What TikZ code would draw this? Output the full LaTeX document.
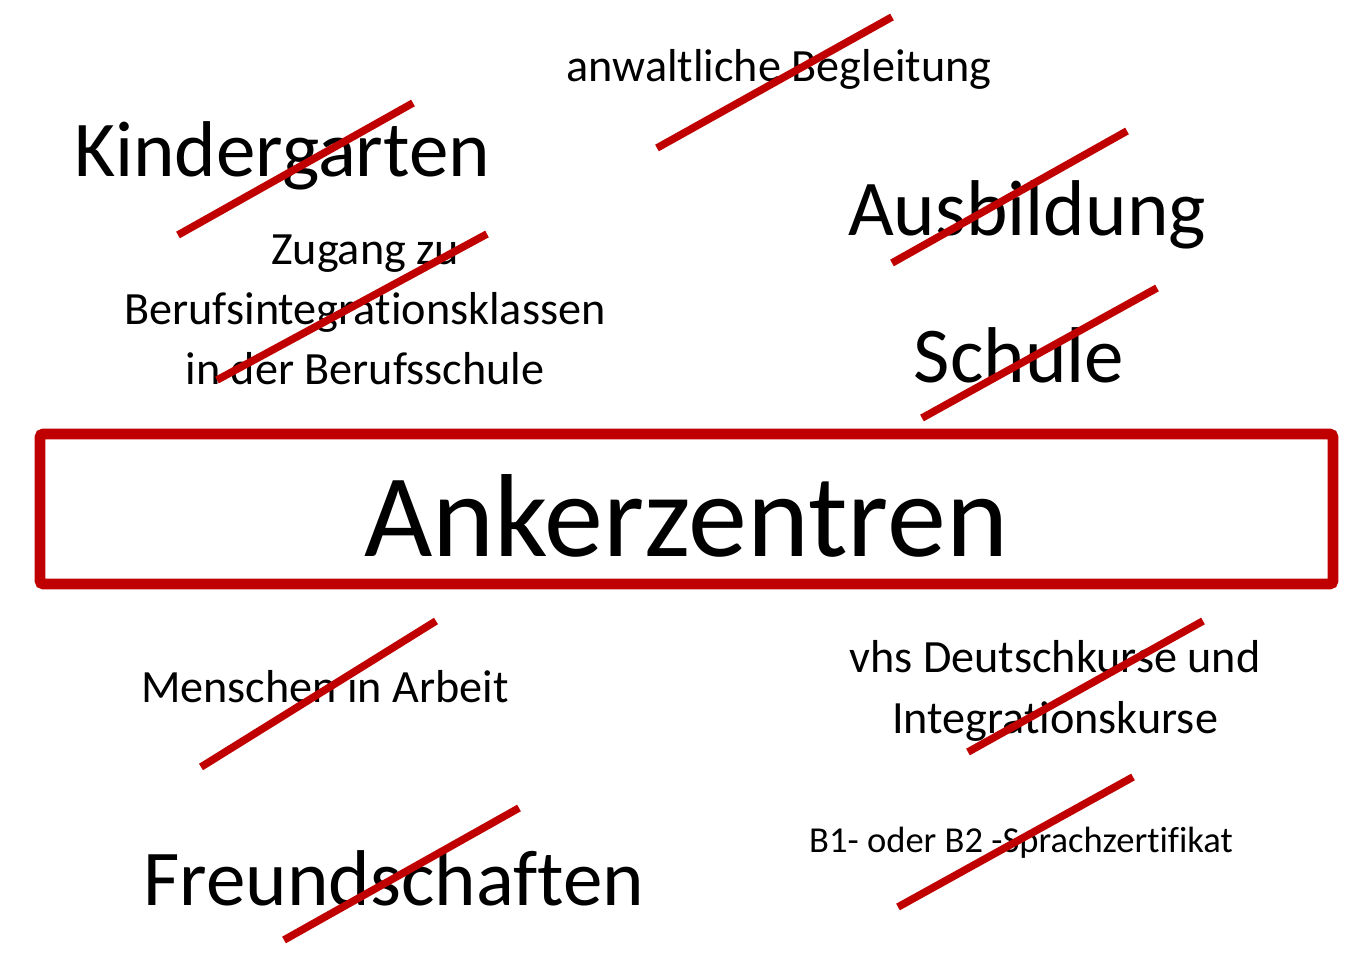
\documentclass[tikz,border=0pt]{standalone}
\usepackage{fontspec}
\setmainfont{Carlito}[Ligatures=NoCommon]
\usepackage{tikz}
\usetikzlibrary{positioning}
\definecolor{strikered}{HTML}{C00000}

\tikzset{
    huge label/.style={anchor=base, inner sep=0pt, font=\fontsize{45}{54}\selectfont},
    mid label/.style={anchor=base, inner sep=0pt, font=\fontsize{26.3}{32}\selectfont},
    small label/.style={anchor=base, inner sep=0pt, font=\fontsize{20.8}{25}\selectfont},
    strike/.style={strikered, line width=4.3pt},
}

\begin{document}
\begin{tikzpicture}[x=0.02cm, y=-0.02cm]
        \useasboundingbox (0,0) rectangle (1353,962);

        % Central box
        \draw[strikered, line width=6.2pt, rounded corners=2pt] (40,434) rectangle (1333,584);
        \node[anchor=base, inner sep=0pt, font=\fontsize{67.2}{80}\selectfont] (anker) at (686,557) {Ankerzentren};

        % Labels above
        \node[mid label] (anwalt) at (779,82) {anwaltliche Begleitung};
        \node[huge label] (kiga) at (282,177) {Kindergarten};
        \node[huge label] (ausb) at (1027,236) {Ausbildung};
        \node[huge label] (schule) at (1019,383) {Schule};
        \foreach \y/\txt [count=\i] in {265/Zugang zu, 325/Berufsintegrationsklassen, 385/in der Berufsschule} {
            \node[mid label] (bik\i) at (365,\y) {\txt};
        }

        % Labels below
        \node[mid label] (arbeit) at (325,703) {Menschen in Arbeit};
        \node[mid label] (vhs1) at (1055,673) {vhs Deutschkurse und};
        \node[mid label] (vhs2) at (1055,734) {Integrationskurse};
        \node[small label] (zert) at (1021,852) {B1- oder B2 -Sprachzertifikat};
        \node[huge label] (freund) at (394,905) {Freundschaften};

        % Strike-through lines
        \foreach \a/\b/\c/\d in {657/148/892/17, 178/235/413/103, 217/380/487/234,
                                 892/263/1127/131, 922/418/1157/288, 201/767/436/621,
                                 968/752/1203/621, 898/907/1133/777, 284/940/519/808} {
            \draw[strike] (\a,\b) -- (\c,\d);
        }
    \end{tikzpicture}
\end{document}
